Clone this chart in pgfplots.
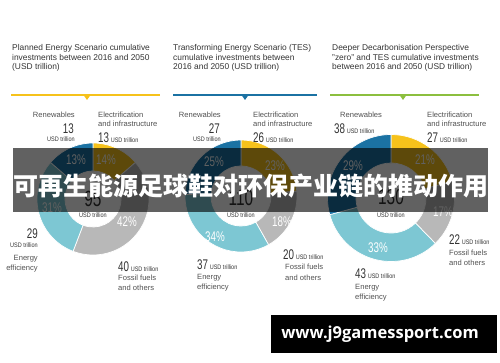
\documentclass[border=0pt]{standalone}
\usepackage{pgfplots}
\pgfplotsset{compat=1.18}
\usepackage{fontspec}
\setmainfont{Liberation Sans}
\newfontfamily\cjk{Noto Sans CJK SC}
\newfontfamily\wm{Open Sans}
\newfontfamily\numf[FakeStretch=0.7]{Liberation Sans}
\newfontfamily\usdf[FakeStretch=0.85]{Liberation Sans}
\definecolor{cElec}{HTML}{F6C21B}
\definecolor{cFoss}{HTML}{B8B8B8}
\definecolor{cEff}{HTML}{7DC7D3}
\definecolor{cRen}{HTML}{1B72A3}
\definecolor{cGreen}{HTML}{8CBF3F}
\definecolor{txt}{HTML}{333333}
\definecolor{lbl}{HTML}{505050}
% segment: cx cy Ro Ri cumBefore value total colour (clockwise from 12 o'clock)
\newcommand\seg[8]{%
  \fill[#8, draw=white, line width=0.7pt, shift={(axis cs:#1,#2)}]
    ({90-(#5)/(#7)*360}:#3pt) arc[start angle={90-(#5)/(#7)*360}, end angle={90-(#5+#6)/(#7)*360}, radius=#3pt]
    -- ({90-(#5+#6)/(#7)*360}:#4pt) arc[start angle={90-(#5+#6)/(#7)*360}, end angle={90-(#5)/(#7)*360}, radius=#4pt] -- cycle;}
\newcommand\Lf{\fontsize{7.6}{9}\selectfont}
\newcommand\Nf{\numf\fontsize{14}{14}\selectfont}
\newcommand\Uf{\usdf\fontsize{6.5}{7}\selectfont}
\newcommand\Pf{\numf\fontsize{14}{14}\selectfont}
\newcommand\Tf{\numf\fontsize{22}{22}\selectfont}
\begin{document}
\begin{tikzpicture}[x=1pt,y=1pt]
\begin{axis}[width=500pt, height=362pt, scale only axis, xmin=0, xmax=500, ymin=0, ymax=362, hide axis, clip=false, anchor=south west, at={(0,0)}]
% ---------- titles ----------
\node[anchor=base west, inner sep=0, text=txt, font=\fontsize{8.4}{9.5}\selectfont, align=left] at (axis cs:12,292)
  {Planned Energy Scenario cumulative\\investments between 2016 and 2050\\(USD trillion)};
\node[anchor=base west, inner sep=0, text=txt, font=\fontsize{8.4}{9.5}\selectfont, align=left] at (axis cs:173,292)
  {Transforming Energy Scenario (TES)\\cumulative investments between\\2016 and 2050 (USD trillion)};
\node[anchor=base west, inner sep=0, text=txt, font=\fontsize{8.4}{9.5}\selectfont, align=left] at (axis cs:332,292)
  {Deeper Decarbonisation Perspective\\\char"201D zero\char"201D{} and TES cumulative investments\\between 2016 and 2050 (USD trillion)};
\draw[cElec, line width=2pt] (axis cs:11,266.5) -- (axis cs:160,266.5);
\fill[cElec] (axis cs:83.5,267) -- (axis cs:90.5,267) -- (axis cs:87,262) -- cycle;
\draw[cRen, line width=2pt] (axis cs:173,266.5) -- (axis cs:317,266.5);
\fill[cRen] (axis cs:241.5,267) -- (axis cs:248.5,267) -- (axis cs:245,262) -- cycle;
\draw[cGreen, line width=2pt] (axis cs:330,266.5) -- (axis cs:479,266.5);
\fill[cGreen] (axis cs:399.5,267) -- (axis cs:406.5,267) -- (axis cs:403,262) -- cycle;
% ---------- donut 1: Planned Energy Scenario (total 95) ----------
% Electrification 13, Fossil fuels 40, Energy efficiency 29, Renewables 13
\seg{93}{163}{56}{28}{0}{13}{95}{cElec}
\seg{93}{163}{56}{28}{13}{40}{95}{cFoss}
\seg{93}{163}{56}{28}{13+40}{29}{95}{cEff}
\seg{93}{163}{56}{28}{13+40+29}{13}{95}{cRen}
% ---------- donut 2: TES (total 110) ----------
% Electrification 26, Fossil fuels 20, Energy efficiency 37, Renewables 27
\seg{241}{166}{56}{30}{0}{26}{110}{cElec}
\seg{241}{166}{56}{30}{26}{20}{110}{cFoss}
\seg{241}{166}{56}{30}{26+20}{37}{110}{cEff}
\seg{241}{166}{56}{30}{26+20+37}{27}{110}{cRen}
% ---------- donut 3: DDP zero + TES (total 130) ----------
% Electrification 27, Fossil fuels 22, Energy efficiency 43, Renewables 38
\seg{391}{164}{63.5}{35}{0}{27}{130}{cElec}
\seg{391}{164}{63.5}{35}{27}{22}{130}{cFoss}
\seg{391}{164}{63.5}{35}{27+22}{43}{130}{cEff}
\seg{391}{164}{63.5}{35}{27+22+43}{38}{130}{cRen}
% ---------- percentages ----------
\node[inner sep=0, text=white, font=\Pf] at (axis cs:76,202) {13\%};
\node[inner sep=0, text=white, font=\Pf] at (axis cs:106,202) {14\%};
\node[inner sep=0, text=white, font=\Pf] at (axis cs:52,154) {31\%};
\node[inner sep=0, text=white, font=\Pf] at (axis cs:127,140) {42\%};
\node[inner sep=0, text=white, font=\Pf] at (axis cs:214,200) {25\%};
\node[inner sep=0, text=white, font=\Pf] at (axis cs:275,196) {23\%};
\node[inner sep=0, text=white, font=\Pf] at (axis cs:282,140) {18\%};
\node[inner sep=0, text=white, font=\Pf] at (axis cs:215,125) {34\%};
\node[inner sep=0, text=white, font=\Pf] at (axis cs:353,196) {29\%};
\node[inner sep=0, text=white, font=\Pf] at (axis cs:425,202) {21\%};
\node[inner sep=0, text=white, font=\Pf] at (axis cs:443,150) {17\%};
\node[inner sep=0, text=white, font=\Pf] at (axis cs:378,114) {33\%};
% ---------- centre totals ----------
\node[anchor=base, inner sep=0, text=txt, font=\Tf] at (axis cs:93,156) {95};
\node[anchor=base, inner sep=0, text=txt, font=\Uf] at (axis cs:93,145) {USD trillion};
\node[anchor=base, inner sep=0, text=txt, font=\Tf] at (axis cs:241,157) {110};
\node[anchor=base, inner sep=0, text=txt, font=\Uf] at (axis cs:241,145) {USD trillion};
\node[anchor=base, inner sep=0, text=txt, font=\Tf] at (axis cs:391,158) {130};
\node[anchor=base, inner sep=0, text=txt, font=\Uf] at (axis cs:391,145) {USD trillion};
% ---------- category labels, donut 1 ----------
\node[anchor=base east, inner sep=0, text=lbl, font=\Lf] at (axis cs:75,244) {Renewables};
\node[anchor=base east, inner sep=0, text=txt, font=\Nf] at (axis cs:74,229) {13};
\node[anchor=base east, inner sep=0, text=txt, font=\Uf] at (axis cs:75,221) {USD trillion};
\node[anchor=base west, inner sep=0, text=lbl, font=\Lf] at (axis cs:98,244) {Electrification};
\node[anchor=base west, inner sep=0, text=lbl, font=\Lf] at (axis cs:98,236) {and infrastructure};
\node[anchor=base west, inner sep=0, text=txt] at (axis cs:98,220) {{\Nf 13}\,{\Uf USD trillion}};
\node[anchor=base east, inner sep=0, text=txt, font=\Nf] at (axis cs:38,124) {29};
\node[anchor=base east, inner sep=0, text=txt, font=\Uf] at (axis cs:38,115) {USD trillion};
\node[anchor=base east, inner sep=0, text=lbl, font=\Lf] at (axis cs:38,102) {Energy};
\node[anchor=base east, inner sep=0, text=lbl, font=\Lf] at (axis cs:38,92) {efficiency};
\node[anchor=base west, inner sep=0, text=txt] at (axis cs:118,91) {{\Nf 40}\,{\Uf USD trillion}};
\node[anchor=base west, inner sep=0, text=lbl, font=\Lf] at (axis cs:118,82) {Fossil fuels};
\node[anchor=base west, inner sep=0, text=lbl, font=\Lf] at (axis cs:118,72) {and others};
% ---------- category labels, donut 2 ----------
\node[anchor=base east, inner sep=0, text=lbl, font=\Lf] at (axis cs:221,244) {Renewables};
\node[anchor=base east, inner sep=0, text=txt, font=\Nf] at (axis cs:220,229) {27};
\node[anchor=base east, inner sep=0, text=txt, font=\Uf] at (axis cs:221,221) {USD trillion};
\node[anchor=base west, inner sep=0, text=lbl, font=\Lf] at (axis cs:253,244) {Electrification};
\node[anchor=base west, inner sep=0, text=lbl, font=\Lf] at (axis cs:253,236) {and infrastructure};
\node[anchor=base west, inner sep=0, text=txt] at (axis cs:253,220) {{\Nf 26}\,{\Uf USD trillion}};
\node[anchor=base west, inner sep=0, text=txt] at (axis cs:283,103) {{\Nf 20}\,{\Uf USD trillion}};
\node[anchor=base west, inner sep=0, text=lbl, font=\Lf] at (axis cs:285,93) {Fossil fuels};
\node[anchor=base west, inner sep=0, text=lbl, font=\Lf] at (axis cs:285,82) {and others};
\node[anchor=base west, inner sep=0, text=txt] at (axis cs:197,93) {{\Nf 37}\,{\Uf USD trillion}};
\node[anchor=base west, inner sep=0, text=lbl, font=\Lf] at (axis cs:197,83) {Energy};
\node[anchor=base west, inner sep=0, text=lbl, font=\Lf] at (axis cs:197,73) {efficiency};
% ---------- category labels, donut 3 ----------
\node[anchor=base west, inner sep=0, text=lbl, font=\Lf] at (axis cs:340,244) {Renewables};
\node[anchor=base west, inner sep=0, text=txt] at (axis cs:334,229) {{\Nf 38}\,{\Uf USD trillion}};
\node[anchor=base west, inner sep=0, text=lbl, font=\Lf] at (axis cs:427,244) {Electrification};
\node[anchor=base west, inner sep=0, text=lbl, font=\Lf] at (axis cs:427,236) {and infrastructure};
\node[anchor=base west, inner sep=0, text=txt] at (axis cs:427,219) {{\Nf 27}\,{\Uf USD trillion}};
\node[anchor=base west, inner sep=0, text=txt] at (axis cs:449,118) {{\Nf 22}\,{\Uf USD trillion}};
\node[anchor=base west, inner sep=0, text=lbl, font=\Lf] at (axis cs:449,107) {Fossil fuels};
\node[anchor=base west, inner sep=0, text=lbl, font=\Lf] at (axis cs:449,97) {and others};
\node[anchor=base west, inner sep=0, text=txt] at (axis cs:355,84) {{\Nf 43}\,{\Uf USD trillion}};
\node[anchor=base west, inner sep=0, text=lbl, font=\Lf] at (axis cs:355,73) {Energy};
\node[anchor=base west, inner sep=0, text=lbl, font=\Lf] at (axis cs:355,63) {efficiency};
% ---------- overlay banner ----------
\fill[black, opacity=0.62] (axis cs:13,214) rectangle (axis cs:488,150);
\node[inner sep=0, text=white, font={\cjk\bfseries\fontsize{25}{25}\selectfont}] at (axis cs:251,176) {可再生能源足球鞋对环保产业链的推动作用};
% ---------- watermark ----------
\fill[black] (axis cs:271,47) rectangle (axis cs:497,9);
\node[inner sep=0, text=white, font={\wm\bfseries\fontsize{16.5}{16.5}\selectfont}] at (axis cs:380,28) {www.j9gamessport.com};
\end{axis}
\pgfresetboundingbox
\path[use as bounding box] (0,0) rectangle (500,362);
\end{tikzpicture}
\end{document}
